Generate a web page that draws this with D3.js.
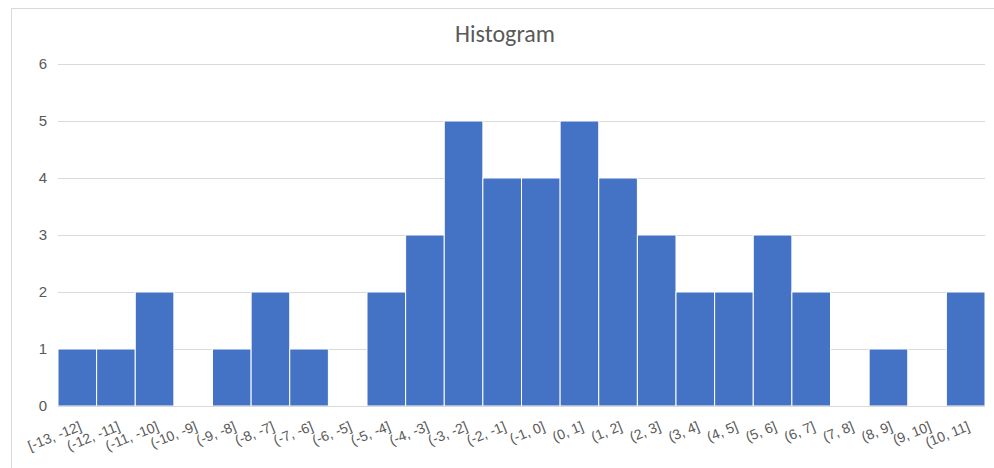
<!DOCTYPE html>
<html lang="en">
<head>
    <meta charset="UTF-8">
    <title>Histogram</title>
    <script src="https://cdn.jsdelivr.net/npm/d3@7"></script>
    <style>
        body { margin: 0; background: #fff; }
        svg { display: block; font-family: Carlito, Calibri, Lato, "Liberation Sans", sans-serif; }
    </style>
</head>
<body>
    <svg width="994" height="468" id="mainsvg"></svg>
    <script>
        const bins = ["[-13, -12]","(-12, -11]","(-11, -10]","(-10, -9]","(-9, -8]","(-8, -7]","(-7, -6]","(-6, -5]",
            "(-5, -4]","(-4, -3]","(-3, -2]","(-2, -1]","(-1, 0]","(0, 1]","(1, 2]","(2, 3]",
            "(3, 4]","(4, 5]","(5, 6]","(6, 7]","(7, 8]","(8, 9]","(9, 10]","(10, 11]"];
        const counts = [1,1,2,0,1,2,1,0,2,3,5,4,4,5,4,3,2,2,3,2,0,1,0,2];
        const yTicks = [0,1,2,3,4,5,6];

        const svg = d3.select('svg');
        const margin = {top: 64, right: 9, bottom: 62, left: 58};
        const width = +svg.attr('width');
        const height = +svg.attr('height');
        const innerWidth = width - margin.left - margin.right;
        const innerHeight = height - margin.top - margin.bottom;

        // chart frame (runs past right/bottom edge like the screenshot)
        svg.append('path')
            .attr('d', `M994,8.5H11.5V468`)
            .attr('fill', 'none').attr('stroke', '#d9d9d9');

        svg.append('text')
            .attr('x', 505).attr('y', 42)
            .attr('text-anchor', 'middle')
            .attr('font-size', 24).attr('fill', '#595959')
            .text('Histogram');

        const g = svg.append('g')
            .attr('transform', `translate(${margin.left}, ${margin.top})`);

        const x = d3.scaleBand().domain(bins).range([0, innerWidth]);
        const y = d3.scaleLinear().domain([0, 6]).range([innerHeight, 0]);

        // gridlines
        g.append('g')
            .call(d3.axisLeft(y).tickValues(yTicks).tickSize(-innerWidth))
            .call(a => a.select('.domain').remove())
            .call(a => a.selectAll('text').remove())
            .call(a => a.selectAll('line').attr('stroke', '#d9d9d9'));

        // y labels
        g.append('g')
            .call(d3.axisLeft(y).tickValues(yTicks).tickSize(0).tickPadding(11).tickFormat(d3.format('d')))
            .call(a => a.select('.domain').remove())
            .call(a => a.selectAll('text').attr('font-size', 15).attr('fill', '#595959').attr('font-family', null));

        g.selectAll('rect.bar').data(counts).join('rect')
            .attr('class', 'bar')
            .attr('x', (d, i) => x(bins[i]))
            .attr('y', d => y(d))
            .attr('width', x.bandwidth())
            .attr('height', d => innerHeight - y(d))
            .attr('fill', '#4472c4')
            .attr('stroke', '#fff')
            .attr('stroke-width', 1);

        // baseline
        g.append('line')
            .attr('x1', 0).attr('x2', innerWidth)
            .attr('y1', innerHeight + 0.5).attr('y2', innerHeight + 0.5)
            .attr('stroke', '#d9d9d9');

        // x labels, rotated
        const xa = g.append('g')
            .attr('transform', `translate(0, ${innerHeight})`)
            .call(d3.axisBottom(x).tickSize(0));
        xa.select('.domain').remove();
        xa.selectAll('.tick text')
            .attr('x', null).attr('y', null).attr('dy', null)
            .attr('transform', 'translate(5, 24) rotate(-22)')
            .attr('text-anchor', 'end')
            .attr('font-size', 14)
            .attr('font-family', null)
            .attr('fill', '#595959');
    </script>
</body>
</html>
